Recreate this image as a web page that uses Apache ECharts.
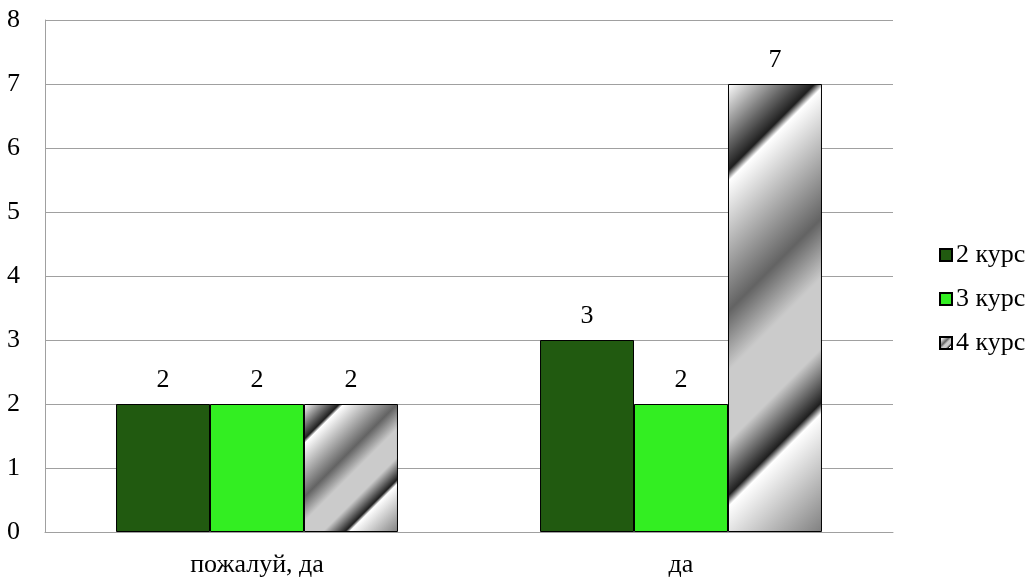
<!DOCTYPE html>
<html>
<head>
<meta charset="utf-8">
<script src="https://cdn.jsdelivr.net/npm/echarts@6/dist/echarts.min.js"></script>
<style>html,body{margin:0;padding:0;background:#fff;}#c{width:1032px;height:583px;}</style>
</head>
<body>
<div id="c"></div>
<script>
const categories = ['пожалуй, да', 'да'];
const seriesNames = ['2 курс', '3 курс', '4 курс'];
const kurs2 = [2, 3];
const kurs3 = [2, 2];
const kurs4 = [2, 7];
const yTicks = [0, 1, 2, 3, 4, 5, 6, 7, 8];

const FONT = '"Liberation Serif", "Times New Roman", serif';
const FS = 26;
const chromeStops = [
  [0, '#ffffff'], [0.16, '#1f1f1f'], [0.1799, '#ffffff'], [0.42, '#636363'],
  [0.53, '#cbcbcb'], [0.66, '#cbcbcb'], [0.7599, '#1f1f1f'], [0.78, '#ffffff'], [1, '#7f7f7f']
];
function chrome(w, h) {
  const s = (w + h) / 2;
  return {
    type: 'linear', x: 0, y: 0, x2: s / w, y2: s / h, global: false,
    colorStops: chromeStops.map(([o, c]) => ({ offset: o, color: c }))
  };
}

const chart = echarts.init(document.getElementById('c'), null, { renderer: 'canvas' });
const labelCfg = { show: true, position: 'top', distance: 11, color: '#000', fontFamily: FONT, fontSize: FS };
const border = { borderColor: '#000', borderWidth: 1 };

function buildOption(k4data) {
  return {
    animation: false,
    backgroundColor: '#fff',
    textStyle: { fontFamily: FONT },
    grid: { left: 45, right: 139, top: 20, bottom: 51, containLabel: false },
    legend: {
      orient: 'vertical', left: 934, top: 237, itemWidth: 12, itemHeight: 12, itemGap: 18,
      icon: 'rect',
      textStyle: { fontFamily: FONT, fontSize: FS, color: '#000', padding: [0, 0, 0, -1] },
      data: seriesNames
    },
    xAxis: {
      type: 'category', data: categories,
      axisLine: { lineStyle: { color: '#a0a0a0' } },
      axisTick: { show: false },
      axisLabel: { color: '#000', fontFamily: FONT, fontSize: FS, margin: 20 }
    },
    yAxis: {
      type: 'value', min: yTicks[0], max: yTicks[yTicks.length - 1], interval: 1,
      axisLine: { show: true, lineStyle: { color: '#a0a0a0' } },
      axisTick: { show: false },
      splitLine: { lineStyle: { color: '#a0a0a0' } },
      axisLabel: { color: '#000', fontFamily: FONT, fontSize: FS, margin: 25 }
    },
    series: [
      { name: seriesNames[0], type: 'bar', data: kurs2, barGap: '0%', barCategoryGap: '33.5%',
        itemStyle: Object.assign({ color: '#215a10' }, border), label: labelCfg },
      { name: seriesNames[1], type: 'bar', data: kurs3, barGap: '0%', barCategoryGap: '33.5%',
        itemStyle: Object.assign({ color: '#33ee22' }, border), label: labelCfg },
      { name: seriesNames[2], type: 'bar', data: k4data, barGap: '0%', barCategoryGap: '33.5%',
        itemStyle: Object.assign({ color: chrome(1, 1) }, border), label: labelCfg }
    ]
  };
}
chart.setOption(buildOption(kurs4));

// Per-bar gradient sized from the bar's own layout so stripes run at 45°
const layout = chart.getModel().getSeriesByIndex(2).getData();
const k4styled = kurs4.map((v, i) => {
  const l = layout.getItemLayout(i);
  return { value: v, itemStyle: { color: chrome(Math.abs(l.width), Math.abs(l.height)) } };
});
chart.setOption(buildOption(k4styled));
</script>
</body>
</html>
